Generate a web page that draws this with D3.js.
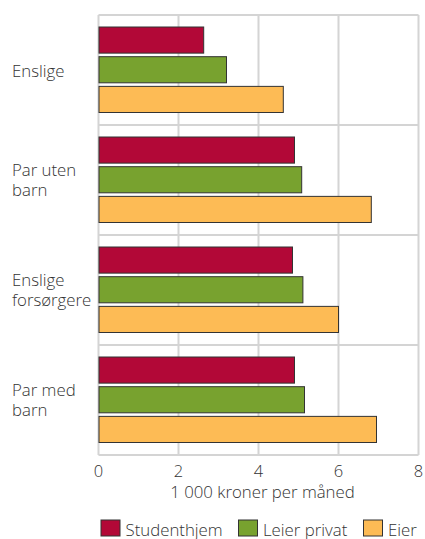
<!DOCTYPE html>
<html>
<head>
<meta charset="utf-8">
<script src="https://cdn.jsdelivr.net/npm/d3@7"></script>
<style>
  body { margin: 0; background: #fff; }
  svg { display: block; font-family: 'Open Sans', 'Noto Sans', sans-serif; font-weight: 300; }
</style>
</head>
<body>
<svg id="chart" width="425" height="539"></svg>
<script>
// Data
const categories = [['Enslige'], ['Par uten', 'barn'], ['Enslige', 'forsørgere'], ['Par med', 'barn']];
const seriesNames = ['Studenthjem', 'Leier privat', 'Eier'];
const studenthjem = [2.63, 4.9, 4.85, 4.9];
const leierPrivat = [3.2, 5.08, 5.11, 5.15];
const eier = [4.62, 6.82, 6.0, 6.95];
const xTicks = [0, 2, 4, 6, 8];
const axisTitle = '1 000 kroner per måned';

const colors = ['#b20837', '#78a22f', '#fdbb55'];
const seriesValues = [studenthjem, leierPrivat, eier];

const svg = d3.select('#chart');
const margin = { top: 15, left: 98.5, right: 6.5, bottom: 84 };
const width = 425 - margin.left - margin.right;
const height = 539 - margin.top - margin.bottom;
const fontSize = '16.8px';
const textColor = '#333';

const g = svg.append('g')
  .attr('transform', `translate(${margin.left},${margin.top})`);

const x = d3.scaleLinear().domain([0, 8]).range([0, width]);
const y = d3.scaleBand().domain(d3.range(categories.length)).range([0, height]);
const yInner = d3.scaleBand()
  .domain(d3.range(seriesNames.length))
  .range([12, y.bandwidth() - 12.5])
  .paddingInner(0.12);

const gridColor = '#d4d4d4';

// vertical grid lines
g.selectAll('.vgrid')
  .data(xTicks)
  .enter()
  .append('line')
  .attr('class', 'vgrid')
  .attr('x1', d => x(d))
  .attr('x2', d => x(d))
  .attr('y1', 0)
  .attr('y2', height)
  .style('stroke', gridColor)
  .style('stroke-width', 2);

// horizontal separators
g.selectAll('.hgrid')
  .data(d3.range(categories.length + 1))
  .enter()
  .append('line')
  .attr('class', 'hgrid')
  .attr('x1', 0)
  .attr('x2', width)
  .attr('y1', d => d * y.step())
  .attr('y2', d => d * y.step())
  .style('stroke', gridColor)
  .style('stroke-width', 2);

// bars
const groups = g.selectAll('.group')
  .data(categories)
  .enter()
  .append('g')
  .attr('class', 'group')
  .attr('transform', (d, i) => `translate(0,${y(i)})`);

groups.selectAll('rect')
  .data((d, i) => seriesValues.map((vals, s) => ({ s, value: vals[i] })))
  .enter()
  .append('rect')
  .attr('x', 0.5)
  .attr('y', d => yInner(d.s))
  .attr('width', d => x(d.value) - 0.5)
  .attr('height', yInner.bandwidth())
  .style('fill', d => colors[d.s])
  .style('stroke', '#333')
  .style('stroke-width', 1);

// category labels
groups.append('text')
  .attr('x', 12 - margin.left)
  .attr('y', d => y.bandwidth() / 2 + 6.5 - (d.length - 1) * 10.5)
  .style('font-size', fontSize)
  .style('fill', textColor)
  .selectAll('tspan')
  .data(d => d)
  .enter()
  .append('tspan')
  .attr('x', 12 - margin.left)
  .attr('dy', (d, i) => i === 0 ? 0 : 20)
  .text(d => d);

// x tick labels
g.selectAll('.xtick')
  .data(xTicks)
  .enter()
  .append('text')
  .attr('class', 'xtick')
  .attr('x', d => x(d))
  .attr('y', height + 22)
  .attr('text-anchor', 'middle')
  .style('font-size', '16.5px')
  .style('fill', textColor)
  .text(d => d);

g.append('text')
  .attr('x', width / 2 + 4)
  .attr('y', height + 43)
  .attr('text-anchor', 'middle')
  .style('font-size', fontSize)
  .style('fill', textColor)
  .text(axisTitle);

// legend
const legendX = [101, 238.5, 363.5];
const legend = svg.selectAll('.legend')
  .data(seriesNames)
  .enter()
  .append('g')
  .attr('class', 'legend')
  .attr('transform', (d, i) => `translate(${legendX[i]},520)`);

legend.append('rect')
  .attr('width', 19)
  .attr('height', 16)
  .style('fill', (d, i) => colors[i])
  .style('stroke', '#333')
  .style('stroke-width', 1);

legend.append('text')
  .attr('x', 24.5)
  .attr('y', 15.5)
  .style('font-size', fontSize)
  .style('fill', textColor)
  .text(d => d);
</script>
</body>
</html>
